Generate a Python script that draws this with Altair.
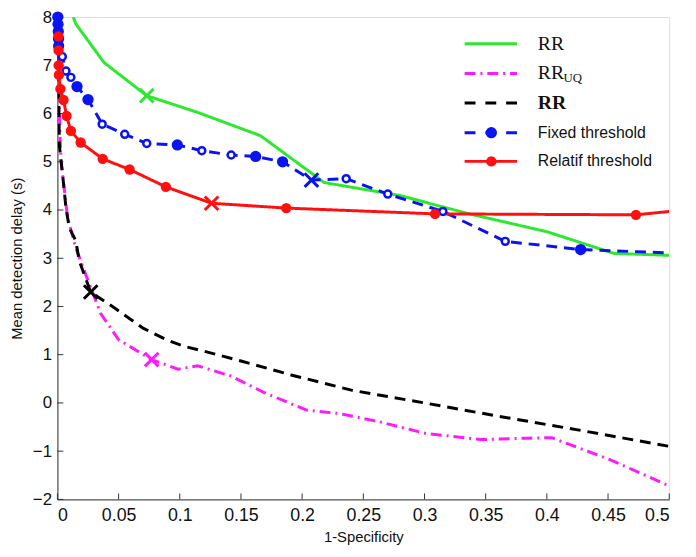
import altair as alt
import pandas as pd

# ---------------- data ----------------
X_TICKS = [0, 0.05, 0.1, 0.15, 0.2, 0.25, 0.3, 0.35, 0.4, 0.45, 0.5]
Y_TICKS = [-2, -1, 0, 1, 2, 3, 4, 5, 6, 7, 8]

green_x = [0.013, 0.015, 0.038, 0.073, 0.115, 0.166, 0.218, 0.28, 0.335, 0.40, 0.455, 0.5]
green_y = [8.0, 7.86, 7.06, 6.37, 6.02, 5.54, 4.57, 4.3, 3.93, 3.55, 3.1, 3.06]
green_mark_x = [0.073]
green_mark_y = [6.37]

mag_x = [0.0003, 0.001, 0.0015, 0.002, 0.003, 0.0083, 0.015, 0.026, 0.0353, 0.05, 0.077,
         0.0985, 0.1147, 0.1416, 0.1686, 0.2036, 0.2305, 0.263, 0.3005, 0.346, 0.384,
         0.404, 0.451, 0.5]
mag_y = [7.4, 7.0, 6.3, 5.6, 5.0, 3.84, 3.22, 2.47, 1.86, 1.31, 0.9,
         0.7, 0.77, 0.56, 0.22, -0.15, -0.22, -0.39, -0.63, -0.76, -0.73,
         -0.72, -1.17, -1.72]
mag_mark_x = [0.077]
mag_mark_y = [0.9]

black_x = [0.0003, 0.001, 0.0016, 0.0043, 0.007, 0.0097, 0.015, 0.0178, 0.0272, 0.045,
           0.07, 0.09, 0.104, 0.1187, 0.15, 0.191, 0.241, 0.3, 0.357, 0.43, 0.5]
black_y = [8.0, 6.5, 5.34, 4.72, 4.04, 3.63, 3.36, 2.95, 2.3, 2.0,
           1.55, 1.3, 1.17, 1.08, 0.87, 0.58, 0.26, 0.0, -0.26, -0.58, -0.9]
black_mark_x = [0.0272]
black_mark_y = [2.3]

blue_x = [0.0003, 0.0005, 0.0007, 0.0009, 0.001, 0.004, 0.007, 0.011, 0.016, 0.025,
          0.0366, 0.055, 0.073, 0.098, 0.118, 0.142, 0.162, 0.184, 0.2076, 0.236,
          0.27, 0.315, 0.366, 0.4276, 0.5]
blue_y = [8.0, 7.85, 7.7, 7.55, 7.4, 7.18, 6.88, 6.75, 6.56, 6.29,
          5.78, 5.57, 5.38, 5.35, 5.23, 5.14, 5.11, 5.0, 4.62, 4.65,
          4.33, 3.97, 3.35, 3.18, 3.11]
blue_fill_x = [0.0003, 0.0005, 0.0007, 0.0009, 0.001, 0.016, 0.025, 0.098, 0.162, 0.184, 0.4276]
blue_fill_y = [8.0, 7.85, 7.7, 7.55, 7.4, 6.56, 6.29, 5.35, 5.11, 5.0, 3.18]
blue_open_x = [0.004, 0.007, 0.011, 0.0366, 0.055, 0.073, 0.118, 0.142, 0.236, 0.27, 0.315, 0.366]
blue_open_y = [7.18, 6.88, 6.75, 5.78, 5.57, 5.38, 5.23, 5.14, 4.65, 4.33, 3.97, 3.35]
blue_mark_x = [0.2076]
blue_mark_y = [4.62]

red_x = [0.0008, 0.0009, 0.001, 0.0012, 0.0024, 0.005, 0.0075, 0.011, 0.019, 0.037,
         0.059, 0.0886, 0.126, 0.187, 0.3086, 0.4728, 0.5]
red_y = [7.6, 7.31, 7.0, 6.8, 6.51, 6.28, 5.95, 5.64, 5.4, 5.06,
         4.84, 4.48, 4.14, 4.04, 3.92, 3.9, 3.97]
red_dot_x = [0.0008, 0.0009, 0.001, 0.0012, 0.0024, 0.005, 0.0075, 0.011, 0.019, 0.037,
             0.059, 0.0886, 0.187, 0.3086, 0.4728]
red_dot_y = [7.6, 7.31, 7.0, 6.8, 6.51, 6.28, 5.95, 5.64, 5.4, 5.06,
             4.84, 4.48, 4.04, 3.92, 3.9]
red_mark_x = [0.126]
red_mark_y = [4.14]

LEGEND_LABELS = ["RR", "RR", "UQ", "RR", "Fixed threshold", "Relatif threshold"]

# ---------------- styling ----------------
W, H = 619, 488
GREEN = "#2ee82e"
MAGENTA = "#ff19ff"
BLACK = "#000000"
BLUE = "#0a14f0"
RED = "#ff1010"
LW = 3
XPATH = "M-1,-1L1,1M-1,1L1,-1"
SANS = "Liberation Sans"
SERIF = "Liberation Serif"

xs = alt.Scale(domain=[0, 0.5], nice=False, zero=False)
ys = alt.Scale(domain=[-2, 8], nice=False, zero=False)

X_AXIS = alt.Axis(values=X_TICKS, format="~g", ticks=False, grid=False,
                  domainColor="#333333", labelFont=SANS, labelFontSize=18,
                  labelColor="#111111", labelPadding=7, titleFont=SANS,
                  titleFontSize=15, titleFontWeight="normal", titleColor="#111111",
                  titlePadding=6)
Y_AXIS = alt.Axis(values=Y_TICKS, format="d", ticks=False, grid=False,
                  domainColor="#333333", labelFont=SANS, labelFontSize=17,
                  labelColor="#111111", labelPadding=6, titleFont=SANS,
                  titleFontSize=15, titleFontWeight="normal", titleColor="#111111",
                  titlePadding=8)


def XE():
    return alt.X("x:Q", scale=xs, axis=X_AXIS, title="1-Specificity")


def YE():
    return alt.Y("y:Q", scale=ys, axis=Y_AXIS, title="Mean detection delay (s)")


def df_of(x, y):
    return pd.DataFrame({"x": x, "y": y, "i": list(range(len(x)))})


def line(x, y, color, dash):
    return alt.Chart(df_of(x, y)).mark_line(
        color=color, strokeWidth=LW, strokeDash=dash, clip=True
    ).encode(x=XE(), y=YE(), order=alt.Order("i:Q"))


def xmark(x, y, color):
    return alt.Chart(df_of(x, y)).mark_point(
        shape=XPATH, filled=False, stroke=color, strokeWidth=3, size=190, opacity=1
    ).encode(x=XE(), y=YE())


def dots(x, y, color, size):
    return alt.Chart(df_of(x, y)).mark_point(
        shape="circle", filled=True, color=color, size=size, opacity=1
    ).encode(x=XE(), y=YE())


def open_dots(x, y, color, size):
    return alt.Chart(df_of(x, y)).mark_point(
        shape="circle", filled=False, stroke=color, fill="white", strokeWidth=2.5,
        size=size, opacity=1
    ).encode(x=XE(), y=YE())


xtick_layer = alt.Chart(pd.DataFrame({"x": X_TICKS})).mark_rule(color="#333333", strokeWidth=1).encode(
    x=XE(), y=alt.value(H), y2=alt.value(H - 6)
)
ytick_layer = alt.Chart(pd.DataFrame({"y": Y_TICKS})).mark_rule(color="#333333", strokeWidth=1).encode(
    y=YE(), x=alt.value(0), x2=alt.value(6)
)

layers = [
    xtick_layer, ytick_layer,
    line(green_x, green_y, GREEN, [1, 0]),
    line(mag_x, mag_y, MAGENTA, [11, 5, 2, 5]),
    line(black_x, black_y, BLACK, [11, 7]),
    line(blue_x, blue_y, BLUE, [11, 7]),
    line(red_x, red_y, RED, [1, 0]),
    dots(blue_fill_x, blue_fill_y, BLUE, 130),
    open_dots(blue_open_x, blue_open_y, BLUE, 50),
    dots(red_dot_x, red_dot_y, RED, 110),
    xmark(green_mark_x, green_mark_y, GREEN),
    xmark(mag_mark_x, mag_mark_y, MAGENTA),
    xmark(black_mark_x, black_mark_y, BLACK),
    xmark(blue_mark_x, blue_mark_y, BLUE),
    xmark(red_mark_x, red_mark_y, RED),
]

# ---------------- legend (drawn manually) ----------------
LX1, LX2, LXM, LTX = 412, 465, 439, 486
rows = [27, 57, 87, 117, 146]
one = pd.DataFrame({"k": [0]})


def lrule(yv, color, dash):
    return alt.Chart(one).mark_rule(color=color, strokeWidth=LW, strokeDash=dash).encode(
        x=alt.value(LX1), x2=alt.value(LX2), y=alt.value(yv)
    )


def ltext(txt, xv, yv, font, size, weight="normal"):
    return alt.Chart(one).mark_text(
        text=txt, font=font, fontSize=size, fontWeight=weight, align="left",
        baseline="middle", color="#111111"
    ).encode(x=alt.value(xv), y=alt.value(yv))


layers += [
    lrule(rows[0], GREEN, [1, 0]),
    lrule(rows[1], MAGENTA, [11, 5, 2, 5]),
    lrule(rows[2], BLACK, [11, 10]),
    lrule(rows[3], BLUE, [11, 10]),
    lrule(rows[4], RED, [1, 0]),
    alt.Chart(one).mark_point(shape="circle", filled=True, color=BLUE, size=130, opacity=1).encode(
        x=alt.value(LXM), y=alt.value(rows[3])),
    alt.Chart(one).mark_point(shape="circle", filled=True, color=RED, size=110, opacity=1).encode(
        x=alt.value(LXM), y=alt.value(rows[4])),
    ltext(LEGEND_LABELS[0], LTX, rows[0], SERIF, 20),
    ltext(LEGEND_LABELS[1], LTX, rows[1], SERIF, 20),
    ltext(LEGEND_LABELS[2], LTX + 26, rows[1] + 5, SERIF, 13),
    ltext(LEGEND_LABELS[3], LTX, rows[2], SERIF, 20, "bold"),
    ltext(LEGEND_LABELS[4], LTX, rows[3], SANS, 16),
    ltext(LEGEND_LABELS[5], LTX, rows[4], SANS, 16),
]

chart = alt.layer(*layers).properties(
    width=W, height=H,
    autosize=alt.AutoSizeParams(type="none"),
    padding={"left": 50, "top": 6, "right": 19, "bottom": 47},
).configure_view(stroke=None).configure(background="white")

chart.save("out.html", embed_options={"renderer": "svg", "actions": False})
